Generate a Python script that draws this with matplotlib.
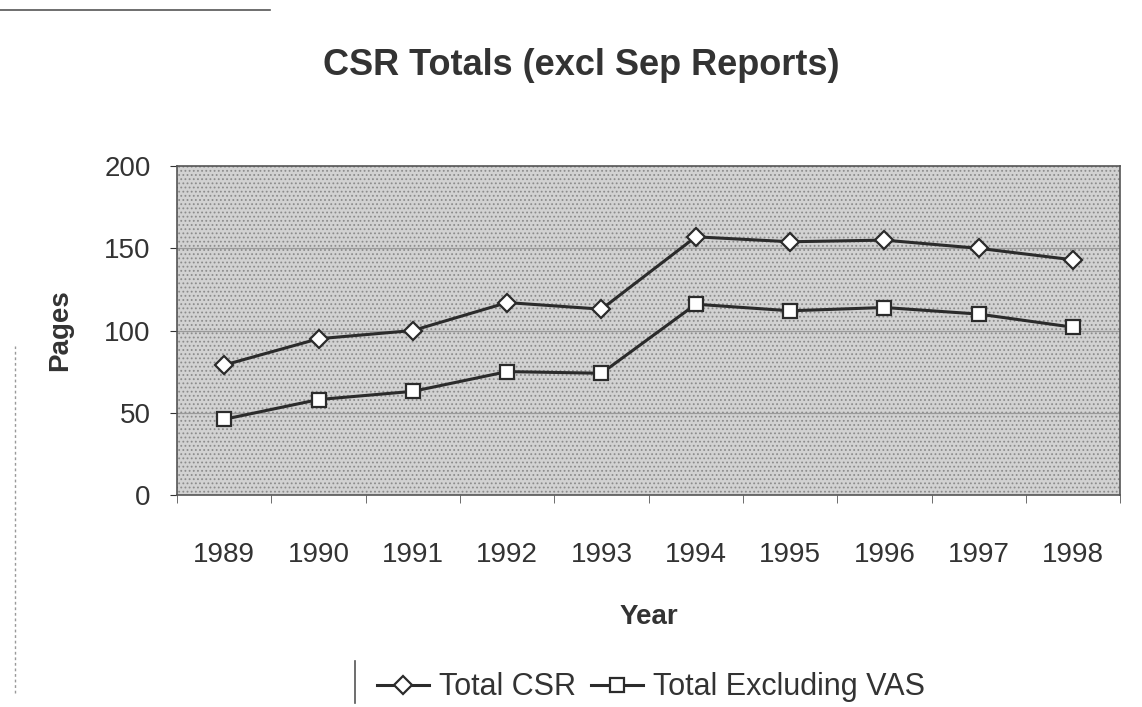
import matplotlib
matplotlib.use('Agg')
from matplotlib import pyplot as plt
from matplotlib.patches import Rectangle
from matplotlib.lines import Line2D

# data
years = ['1989', '1990', '1991', '1992', '1993', '1994', '1995', '1996', '1997', '1998']
total_csr = [79, 95, 100, 117, 113, 157, 154, 155, 150, 143]
total_excl_vas = [46, 58, 63, 75, 74, 116, 112, 114, 110, 102]

plt.rcParams['font.family'] = ['Liberation Sans', 'DejaVu Sans']
plt.rcParams['hatch.linewidth'] = 0.8
plt.rcParams['hatch.color'] = '#8c8c8c'

txt = '#333333'

fig = plt.figure(figsize=(11.42, 7.07), dpi=100)
ax = fig.add_axes([0.155, 0.300, 0.826, 0.465])

# dotted grey plot area, like the old spreadsheet print
ax.set_facecolor('#d2d2d2')
ax.add_patch(Rectangle((0, 0), 1, 1, transform=ax.transAxes, facecolor='none',
                       hatch='....', edgecolor='#8c8c8c', linewidth=0, zorder=0))

x = list(range(len(years)))
for v in (50, 100, 150):
    ax.axhline(v, color='#9a9a9a', linewidth=0.9, zorder=1)

ax.plot(x, total_csr, color='#2b2b2b', linewidth=2.2, marker='D', markersize=9,
        markerfacecolor='white', markeredgecolor='#2b2b2b', markeredgewidth=1.6,
        label='Total CSR', zorder=3)
ax.plot(x, total_excl_vas, color='#2b2b2b', linewidth=2.2, marker='s', markersize=10,
        markerfacecolor='white', markeredgecolor='#2b2b2b', markeredgewidth=1.6,
        label='Total Excluding VAS', zorder=3)

ax.set_xlim(-0.5, len(years) - 0.5)
ax.set_ylim(0, 200)
ax.set_yticks([0, 50, 100, 150, 200])
ax.set_xticks(x)
ax.set_xticklabels(years)
ax.set_xticks([i - 0.5 for i in range(len(years) + 1)], minor=True)
ax.tick_params(axis='x', which='major', length=0, pad=34, labelsize=20, colors=txt)
ax.tick_params(axis='x', which='minor', length=6, color='#555555')
ax.tick_params(axis='y', length=5, pad=14, labelsize=20, colors=txt)

for s in ax.spines.values():
    s.set_color('#555555')
    s.set_linewidth(1.2)

ax.set_ylabel('Pages', fontsize=20, fontweight='bold', color=txt, labelpad=22)
ax.set_xlabel('Year', fontsize=20, fontweight='bold', color=txt, labelpad=26)

fig.text(0.509, 0.907, 'CSR Totals (excl Sep Reports)', fontsize=26, fontweight='bold',
         color=txt, ha='center', va='center')

fig.legend(loc='center', bbox_to_anchor=(0.570, 0.028), ncol=2, frameon=False,
           fontsize=22, handlelength=1.7, handletextpad=0.33, columnspacing=0.5,
           labelcolor=txt, borderpad=0.1)

# faint scan edges from the photocopy
fig.add_artist(Line2D([0.0, 0.236], [0.986, 0.986], color='#555555', linewidth=1.2))
fig.add_artist(Line2D([0.013, 0.013], [0.02, 0.51], color='#999999', linewidth=1,
                      linestyle=(0, (2, 2))))
fig.add_artist(Line2D([0.311, 0.311], [0.005, 0.065], color='#555555', linewidth=1.2))

plt.savefig('out.png', dpi=100)
